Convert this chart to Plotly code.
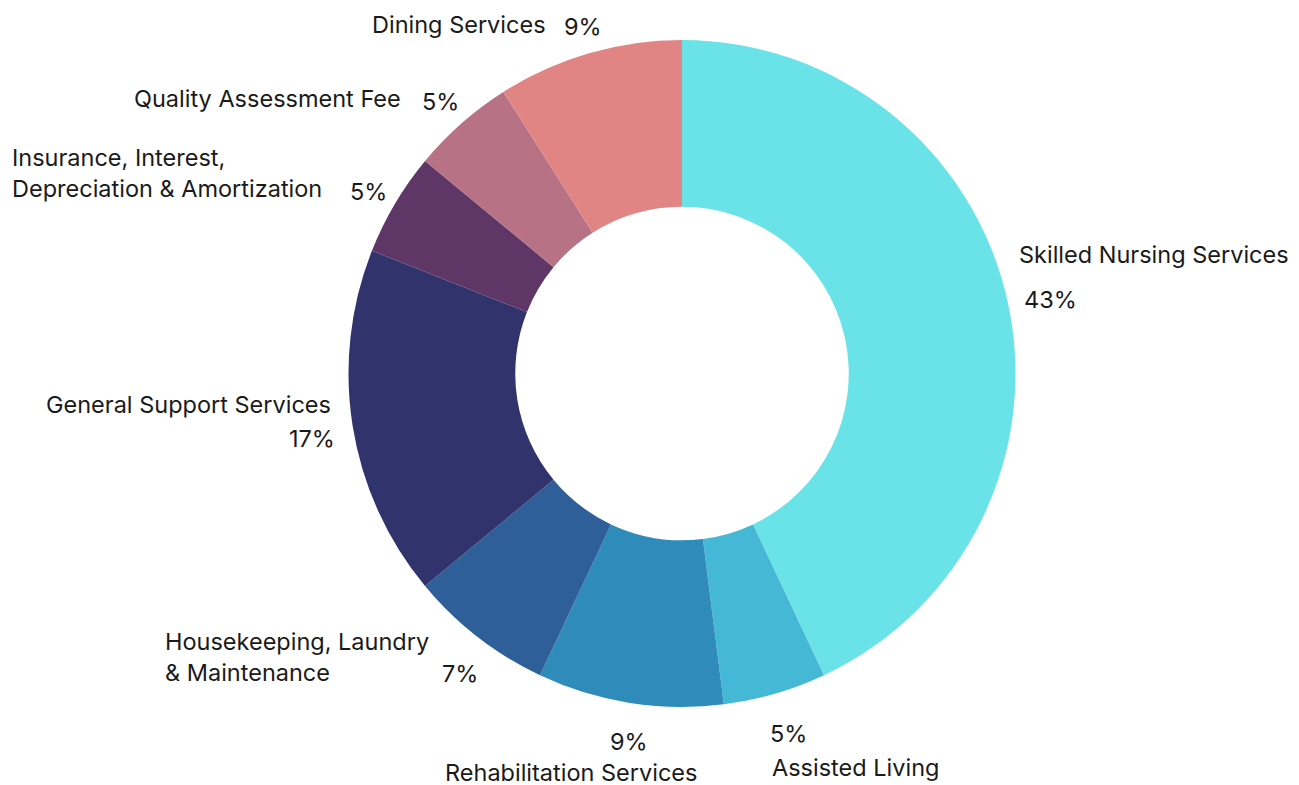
import plotly.graph_objects as go

# ---- data ----
categories = [
    "Skilled Nursing Services",
    "Assisted Living",
    "Rehabilitation Services",
    "Housekeeping, Laundry & Maintenance",
    "General Support Services",
    "Insurance, Interest, Depreciation & Amortization",
    "Quality Assessment Fee",
    "Dining Services",
]
values = [43, 5, 9, 7, 17, 5, 5, 9]
display_labels = [
    "Skilled Nursing Services",
    "Assisted Living",
    "Rehabilitation Services",
    "Housekeeping, Laundry<br>& Maintenance",
    "General Support Services",
    "Insurance, Interest,<br>Depreciation & Amortization",
    "Quality Assessment Fee",
    "Dining Services",
]
colors = ["#6ae3e8", "#45b8d6", "#2e8bba", "#2e5f98",
          "#31346c", "#5e3766", "#b87286", "#e08484"]

# ---- text layout (pixel positions in the browser window) ----
W, H = 1299, 785
OFF = 8  # page body margin
# (x, y, xanchor, align) for category label (y = centre of block)
label_pos = [
    (1017, 255, "left", "left"),
    (770, 767, "left", "left"),
    (443, 772, "left", "left"),
    (163, 657, "left", "left"),
    (333, 404, "right", "right"),
    (10, 173, "left", "left"),
    (403, 99, "right", "right"),
    (548, 25, "right", "right"),
]
# (x, y, xanchor) for percentage
pct_pos = [
    (1022, 300, "left"),
    (768, 733, "left"),
    (608, 741, "left"),
    (440, 673, "left"),
    (337, 438, "right"),
    (348, 192, "left"),
    (420, 102, "left"),
    (562, 27, "left"),
]


def px(x):
    return (x - OFF) / W


def py(y):
    return 1 - (y - OFF) / H


FONT = "Inter, 'Noto Sans', sans-serif"
TXT = "#1a1a1a"
FS = 23.5

cx, top, bottom = 682, 40, 707
fig = go.Figure(go.Pie(
    labels=categories,
    values=values,
    marker=dict(colors=colors, line=dict(width=0)),
    hole=0.5,
    sort=False,
    direction="clockwise",
    rotation=0,
    textinfo="none",
    showlegend=False,
    domain=dict(x=[px(cx) - 0.33, px(cx) + 0.33], y=[py(bottom), py(top)]),
))

total = sum(values)
annotations = []
for i, lab in enumerate(display_labels):
    x, y, xa, al = label_pos[i]
    annotations.append(dict(
        x=px(x), y=py(y), xref="paper", yref="paper",
        text=lab, showarrow=False, xanchor=xa, yanchor="middle", align=al,
        font=dict(family=FONT, size=FS, color=TXT),
    ))
    qx, qy, qxa = pct_pos[i]
    pct = round(values[i] / total * 100)
    annotations.append(dict(
        x=px(qx), y=py(qy), xref="paper", yref="paper",
        text=f"{pct}%", showarrow=False, xanchor=qxa, yanchor="middle",
        font=dict(family=FONT, size=FS, color=TXT),
    ))

fig.update_layout(
    width=W, height=H,
    margin=dict(l=0, r=0, t=0, b=0),
    paper_bgcolor="white",
    plot_bgcolor="white",
    annotations=annotations,
)

fig.write_html("out.html")
